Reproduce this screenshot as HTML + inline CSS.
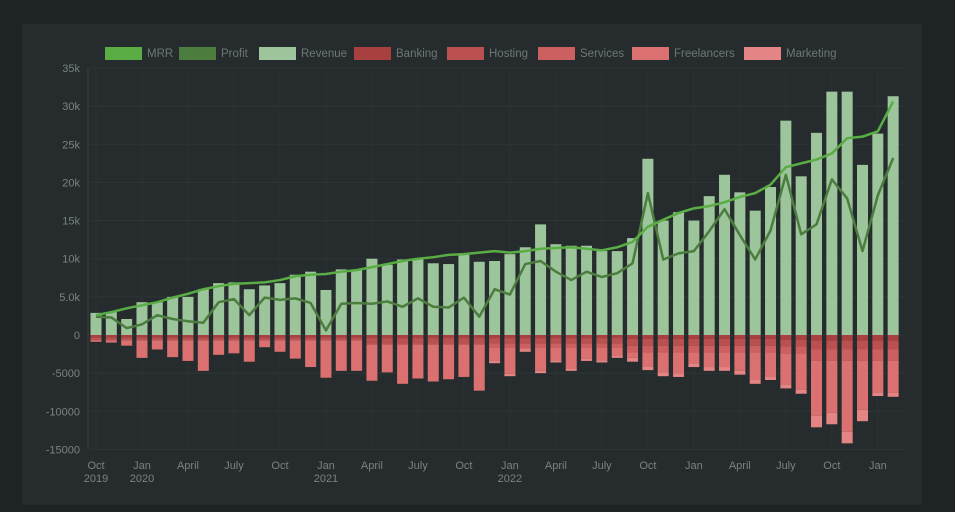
<!DOCTYPE html>
<html><head><meta charset="utf-8"><style>
html,body{margin:0;padding:0;background:#1e2323;width:955px;height:512px;overflow:hidden}
#panel{position:absolute;left:22px;top:24px;width:900px;height:481px;background:#262c2e}
svg{position:absolute;left:0;top:0}
text{font-family:"Liberation Sans",sans-serif}
</style></head><body>
<div id="panel"></div>
<svg id="chart" width="955" height="512"></svg>
<script>
const months=["Oct\n2019","","","Jan\n2020","","","April","","","July","","","Oct","","","Jan\n2021","","","April","","","July","","","Oct","","","Jan\n2022","","","April","","","July","","","Oct","","","Jan","","","April","","","July","","","Oct","","","Jan","",""];
const revenue=[2900,3000,2100,4300,4300,5000,5000,6000,6800,6900,6000,6500,6800,7900,8300,5900,8600,8500,10000,9200,9900,10000,9400,9300,10500,9600,9700,10600,11500,14500,11900,11700,11700,11000,11000,12700,23100,15000,16100,15000,18200,21000,18700,16300,19400,28100,20800,26500,31900,31900,22300,26400,31300];
const mrr=[2600,3000,3500,3900,4300,4900,5400,6000,6400,6700,6800,6900,7200,7700,7900,8000,8300,8500,8900,9300,9700,10000,10200,10500,10600,10800,11000,10800,11000,11300,11400,11500,11300,11100,11500,12200,14200,15100,16000,16600,16900,17400,18100,18600,19700,22000,22500,23000,23800,25800,26000,26700,30600];
const profit=[2400,2300,900,1400,2600,2100,1800,1600,4300,4700,2600,4900,4600,4800,4200,600,4100,4200,4100,4400,3700,4800,3700,3600,4900,2400,6000,5300,9300,9700,8300,7200,8300,7600,8100,9400,18600,9900,10700,11000,13600,16500,13100,9900,13700,21000,13200,14500,20400,17900,11000,18300,23200];
const banking=[300,300,300,300,300,300,300,300,300,300,300,300,300,300,300,300,300,300,400,400,400,400,400,400,400,400,400,400,400,400,400,400,400,400,400,500,500,500,500,500,500,500,500,500,500,600,600,700,700,700,700,700,700];
const hosting=[300,300,300,300,300,300,300,300,300,300,300,300,300,300,300,300,300,300,700,700,700,700,700,700,700,700,700,700,700,700,700,700,700,700,700,900,900,900,900,900,900,900,900,900,900,900,900,1200,1200,1200,1200,1200,1200];
const services=[100,100,100,100,100,100,100,100,100,100,100,100,100,100,100,100,100,100,200,200,200,200,200,200,200,200,600,600,600,600,600,600,600,600,600,900,900,900,900,900,900,900,900,900,900,900,900,1500,1500,1500,1500,1500,1500];
const freelancers=[200,300,700,2300,1200,2200,2700,4000,1900,1700,2800,900,1500,2400,3500,4900,4000,4000,4700,3600,5100,4400,4800,4500,4200,6000,1700,3400,200,3000,1600,2700,1400,1600,1000,700,1800,2600,2700,1400,1900,1900,2400,3600,3100,4100,4800,7200,6800,9300,6400,4100,4200];
const marketing=[0,0,0,0,0,0,0,0,0,0,0,0,0,0,0,0,0,0,0,0,0,0,0,0,0,0,300,300,300,300,300,300,300,300,300,500,500,500,500,500,500,500,500,500,500,500,500,1500,1500,1500,1500,500,500];
const yTicks=[35000,30000,25000,20000,15000,10000,5000,0,-5000,-10000,-15000];
const yTickLabels=["35k","30k","25k","20k","15k","10k","5.0k","0","-5000","-10000","-15000"];

const NS="http://www.w3.org/2000/svg";
const svg=document.getElementById('chart');
const X0=96,STEP=15.33,Y0=335,SC=267/35000,LEFT=90,RIGHT=905;
const xs=i=>X0+i*STEP;
const ys=v=>Y0-v*SC;
function mk(tag,attrs,parent){const e=document.createElementNS(NS,tag);for(const k in attrs)e.setAttribute(k,attrs[k]);(parent||svg).appendChild(e);return e;}

// grid
const grid=mk('g',{});


yTicks.forEach((t,i)=>{
  const l=mk('line',{x1:LEFT,x2:RIGHT,y1:ys(t),y2:ys(t),stroke:'#2f3537','stroke-width':1},grid);
  
  
  const tx=mk('text',{x:80,y:ys(t)+4,'text-anchor':'end','font-size':11,fill:'#7a8280'});
  tx.textContent=yTickLabels[i];
  
  
});
months.forEach((m,i)=>{
  if(!m)return;
  const l=mk('line',{x1:xs(i),x2:xs(i),y1:ys(35000),y2:ys(-15000),stroke:'#2c3234','stroke-width':1},grid);
  
  
  const parts=m.split('\n');
  const tx=mk('text',{x:xs(i),y:469,'text-anchor':'middle','font-size':11,fill:'#7a8280'});
  
  
  parts.forEach((p,k)=>{const ts=mk('tspan',{x:xs(i),dy:k?13:0},tx);ts.textContent=p;});
});
const ax=mk('line',{x1:LEFT-2,x2:LEFT-2,y1:ys(35000),y2:ys(-15000),stroke:'#3a4143','stroke-width':1});



// bars
const BW=11;
revenue.forEach((v,i)=>{
  const r=mk('rect',{x:xs(i)-BW/2,y:ys(v),width:BW,height:ys(0)-ys(v),fill:'#9cc59c'});
  
  
});
const stacks=[[banking,'#a8403f','banking-bar'],[hosting,'#bb5050','hosting-bar'],[services,'#cc5f5f','services-bar'],[freelancers,'#da7070','freelancers-bar'],[marketing,'#e58484','marketing-bar']];
revenue.forEach((_,i)=>{
  let acc=0;
  stacks.forEach(([arr,col,name])=>{
    const v=arr[i]; if(!v)return;
    const r=mk('rect',{x:xs(i)-BW/2,y:ys(-acc),width:BW,height:ys(-acc-v)-ys(-acc),fill:col});
    
    
    acc+=v;
  });
});
// lines
function line(arr,col,name){
  const p=mk('polyline',{points:arr.map((v,i)=>xs(i)+','+ys(v)).join(' '),fill:'none',stroke:col,'stroke-width':2.5,'stroke-linejoin':'round'});
  
  
}
line(profit,'#4c7d3f','profit-line');
line(mrr,'#5aad45','mrr-line');

// legend
const legend=[['MRR','#5aad45',105],['Profit','#4c7d3f',179],['Revenue','#9cc59c',259],['Banking','#a8403f',354],['Hosting','#bb5050',447],['Services','#cc5f5f',538],['Freelancers','#da7070',632],['Marketing','#e58484',744]];
const lg=mk('g',{});


legend.forEach(([n,c,x])=>{
  const g=mk('g',{},lg);
  
  
  mk('rect',{x:x,y:47,width:37,height:13,fill:c},g);
  const t=mk('text',{x:x+42,y:57,'font-size':11.5,fill:'#6d7775'},g);
  t.textContent=n;
});
</script>
</body></html>
